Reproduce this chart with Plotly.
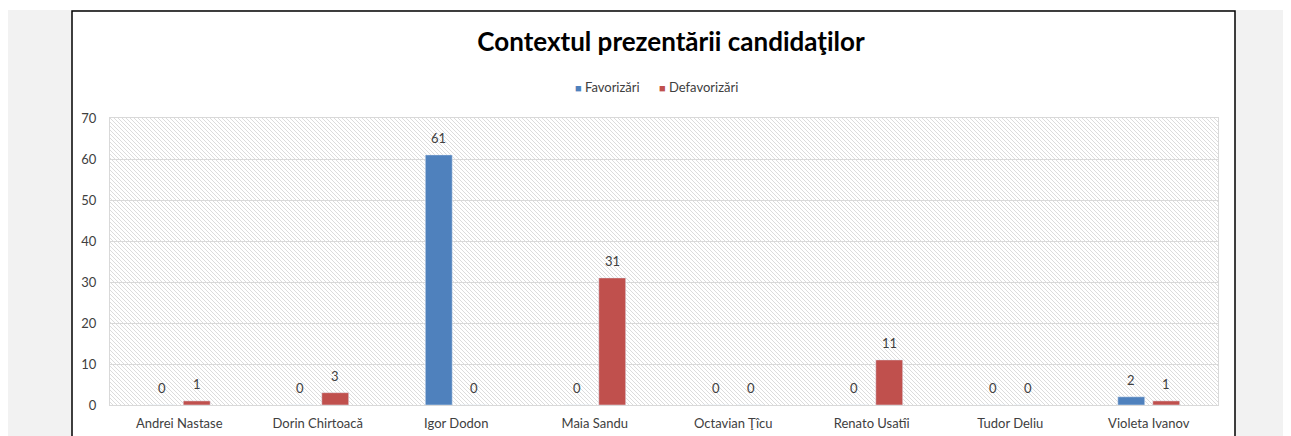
import base64
import plotly.graph_objects as go

categories = ["Andrei Nastase", "Dorin Chirtoacă", "Igor Dodon", "Maia Sandu",
              "Octavian Ţîcu", "Renato Usatîi", "Tudor Deliu", "Violeta Ivanov"]
series_names = ["Favorizări", "Defavorizări"]
favorizari = [0, 0, 61, 0, 0, 0, 0, 2]
defavorizari = [1, 3, 0, 31, 0, 11, 0, 1]
y_ticks = [0, 10, 20, 30, 40, 50, 60, 70]
colors = ["#4f81bd", "#c0504d"]

# page body has an 8px margin: screen coords -> figure coords
OFF = 8
W, H = 1291, 436
PL, PR, PT, PB = 110 - OFF, 1218 - OFF, 118 - OFF, 405 - OFF
ML, MR, MT, MB = PL, W - PR, PT, H - PB
PW, PH = PR - PL, PB - PT

def px_x(p):
    return (p - OFF - ML) / PW

def px_y(p):
    return (PB - (p - OFF)) / PH

svg = (f"<svg xmlns='http://www.w3.org/2000/svg' width='{PW}' height='{PH}'>"
       "<defs><pattern id='h' width='4' height='4' patternUnits='userSpaceOnUse'>"
       "<path d='M-1,-1 L5,5 M-1,3 L1,5 M3,-1 L5,1' stroke='#dcdcdc' stroke-width='1'/>"
       "</pattern></defs><rect width='100%' height='100%' fill='white'/>"
       "<rect width='100%' height='100%' fill='url(#h)'/></svg>")
src = "data:image/svg+xml;base64," + base64.b64encode(svg.encode()).decode()

font = "Lato, 'Open Sans', sans-serif"

fig = go.Figure()
for name, vals, col in zip(series_names, [favorizari, defavorizari], colors):
    fig.add_trace(go.Bar(x=categories, y=vals, name=name, marker_color=col,
                         showlegend=False))

annotations = []
for k, vals in enumerate([favorizari, defavorizari]):
    shift = -17.5 if k == 0 else 17.5
    for c, v in zip(categories, vals):
        annotations.append(dict(x=c, y=v, xref="x", yref="y", text=str(v), showarrow=False,
                                xshift=shift, yshift=7, yanchor="bottom",
                                font=dict(size=13, color="#404040")))

# legend drawn as text items
for name, col, xp in zip(series_names, colors, [573, 657]):
    annotations.append(dict(xref="paper", yref="paper", x=px_x(xp), y=px_y(87),
                            xanchor="left", yanchor="middle", showarrow=False,
                            text=f"<span style='color:{col};font-size:11px'>■</span> {name}",
                            font=dict(size=13, color="#404040")))

shapes = [
    dict(type="rect", xref="paper", yref="paper", x0=px_x(7), x1=px_x(1310),
         y0=px_y(460), y1=px_y(10), fillcolor="#f2f2f2", line_width=0, layer="below"),
    dict(type="rect", xref="paper", yref="paper", x0=px_x(72), x1=px_x(1235),
         y0=px_y(470), y1=px_y(11), fillcolor="white",
         line=dict(color="#000000", width=1.5), layer="below"),
]

fig.update_layout(
    width=W, height=H,
    margin=dict(l=ML, r=MR, t=MT, b=MB),
    paper_bgcolor="white", plot_bgcolor="rgba(0,0,0,0)",
    font=dict(family=font, color="#404040"),
    title=dict(text="<b>Contextul prezentării candidaţilor</b>", x=(671 - OFF) / W,
               xanchor="center", y=1 - (42 - OFF) / H, yanchor="middle",
               font=dict(size=26, color="#000000", family=font)),
    showlegend=False,
    barmode="group", bargap=0.495, bargroupgap=0.23,
    shapes=shapes, annotations=annotations,
    images=[dict(source=src, xref="x", yref="y", x=-0.5, y=70, sizex=8, sizey=70,
                 xanchor="left", yanchor="top", sizing="stretch", layer="below")],
)
fig.update_xaxes(range=[-0.5, 7.5], showgrid=False, ticks="", tickfont=dict(size=13, color="#404040"),
                 showline=True, linecolor="#d9d9d9", mirror=True, linewidth=1,
                 ticklabelstandoff=6, automargin=False)
fig.update_yaxes(range=[0, 70], tickvals=y_ticks, showgrid=True, gridcolor="#d9d9d9", gridwidth=1,
                 tickfont=dict(size=13, color="#404040"), showline=True, linecolor="#d9d9d9",
                 mirror=True, zeroline=False, ticks="", ticklabelstandoff=10, automargin=False)
for i in range(1, len(categories)):
    fig.add_vline(x=i - 0.5, line=dict(color="#d9d9d9", width=1), layer="below")

fig.write_html("out.html")
